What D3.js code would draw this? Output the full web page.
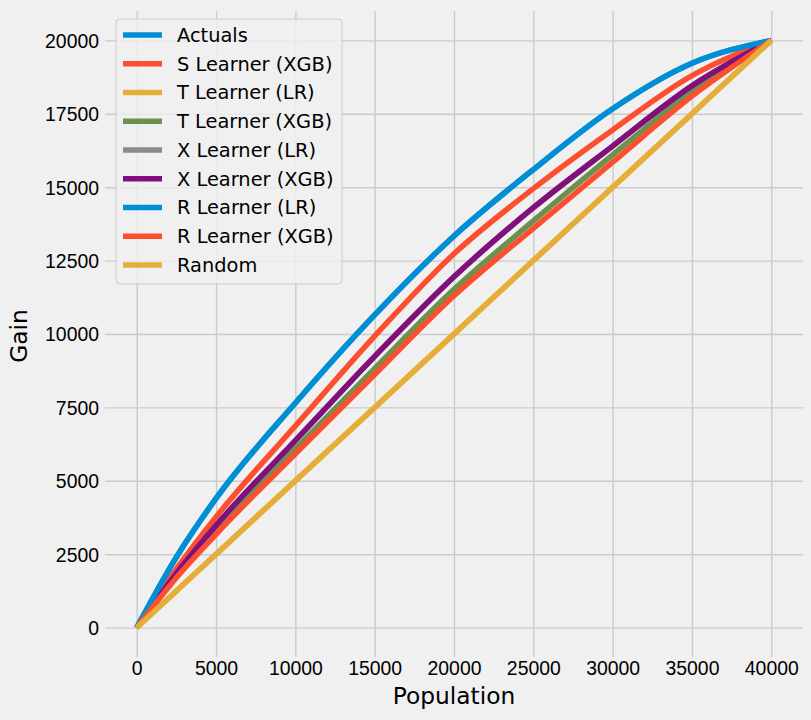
<!DOCTYPE html>
<html>
<head>
<meta charset="utf-8">
<script src="https://cdn.jsdelivr.net/npm/d3@7"></script>
<style>
  body { margin: 0; background: #f0f0f0; }
  svg { display: block; font-family: "DejaVu Sans", sans-serif; }
</style>
</head>
<body>
<script>
// population sampled along the x axis
var population = [0, 2500, 5000, 10000, 15000, 20000, 25000, 30000, 35000, 40000];

// gain curves
var actuals     = [0, 2400, 4400, 7650, 10650, 13340, 15600, 17670, 19220, 20000];
var sXgb        = [0, 2000, 3770, 6870, 9930, 12730, 14950, 16950, 18800, 20000];
var tLr         = [0, 1250, 2500, 5000, 7500, 10000, 12500, 15000, 17500, 20000];
var tXgb        = [0, 1780, 3320, 6090, 8830, 11520, 13850, 16100, 18250, 20000];
var xLr         = [0, 1850, 3480, 6370, 9240, 11950, 14300, 16400, 18450, 20000];
var xXgb        = [0, 1850, 3480, 6370, 9240, 11950, 14300, 16400, 18450, 20000];
var rLr         = [0, 2400, 4400, 7650, 10650, 13340, 15600, 17670, 19220, 20000];
var rXgb        = [0, 1700, 3180, 5920, 8620, 11300, 13600, 15850, 18100, 20000];
var randomGain  = [0, 1250, 2500, 5000, 7500, 10000, 12500, 15000, 17500, 20000];

var names = ["Actuals", "S Learner (XGB)", "T Learner (LR)", "T Learner (XGB)",
             "X Learner (LR)", "X Learner (XGB)", "R Learner (LR)", "R Learner (XGB)", "Random"];
var values = [actuals, sXgb, tLr, tXgb, xLr, xXgb, rLr, rXgb, randomGain];

var xTicks = d3.range(0, 40001, 5000);
var yTicks = d3.range(0, 20001, 2500);

// fivethirtyeight colour cycle
var colors = ["#008fd5", "#fc4f30", "#e5ae38", "#6d904f", "#8b8b8b", "#810f7c"];

var W = 811, H = 720;
var plot = {left: 105, right: 803, top: 11, bottom: 657};

var x = d3.scaleLinear().domain([-2000, 42000]).range([plot.left, plot.right]);
var y = d3.scaleLinear().domain([-1000, 21000]).range([plot.bottom, plot.top]);

var svg = d3.select("body").append("svg")
    .attr("width", W)
    .attr("height", H);

svg.append("rect").attr("width", W).attr("height", H).attr("fill", "#f0f0f0");

// grid + tick labels through the axes
var xAxis = svg.append("g")
    .attr("transform", "translate(0," + plot.bottom + ")")
    .call(d3.axisBottom(x).tickValues(xTicks).tickFormat(d3.format("d"))
        .tickSize(-(plot.bottom - plot.top)).tickPadding(0));

var yAxis = svg.append("g")
    .attr("transform", "translate(" + plot.left + ",0)")
    .call(d3.axisLeft(y).tickValues(yTicks).tickFormat(d3.format("d"))
        .tickSize(-(plot.right - plot.left)).tickPadding(6));

[xAxis, yAxis].forEach(function (g) {
    g.select(".domain").remove();
    g.selectAll(".tick line").attr("stroke", "#cbcbcb").attr("stroke-width", 1.4);
    g.selectAll(".tick text").attr("fill", "#000").style("font-size", "19.4px");
});
xAxis.selectAll(".tick text").attr("dy", null).attr("y", 18);
yAxis.selectAll(".tick text").attr("dy", "0.36em");

// lines
var line = d3.line()
    .x(function (d, i) { return x(population[i]); })
    .y(function (d) { return y(d); })
    .curve(d3.curveMonotoneX);

values.forEach(function (v, k) {
    svg.append("path")
        .attr("d", line(v))
        .attr("fill", "none")
        .attr("stroke", colors[k % colors.length])
        .attr("stroke-width", 5.5)
        .attr("stroke-linejoin", "round");
});

// axis labels
svg.append("text")
    .attr("x", (plot.left + plot.right) / 2)
    .attr("y", 704)
    .attr("text-anchor", "middle")
    .style("font-size", "23.3px")
    .text("Population");

svg.append("text")
    .attr("transform", "translate(27," + ((plot.top + plot.bottom) / 2 + 2) + ") rotate(-90)")
    .attr("text-anchor", "middle")
    .style("font-size", "23.3px")
    .text("Gain");

// legend
var legend = svg.append("g");
legend.append("rect")
    .attr("x", 116).attr("y", 19)
    .attr("width", 226).attr("height", 265)
    .attr("rx", 4)
    .attr("fill", "#f0f0f0").attr("fill-opacity", 0.8)
    .attr("stroke", "#cccccc").attr("stroke-width", 1);

names.forEach(function (n, k) {
    var ly = 35 + k * 28.75;
    legend.append("line")
        .attr("x1", 123).attr("x2", 162)
        .attr("y1", ly).attr("y2", ly)
        .attr("stroke", colors[k % colors.length])
        .attr("stroke-width", 5.5);
    legend.append("text")
        .attr("x", 177).attr("y", ly)
        .attr("dy", "0.36em")
        .style("font-size", "19.4px")
        .text(n);
});
</script>
</body>
</html>
